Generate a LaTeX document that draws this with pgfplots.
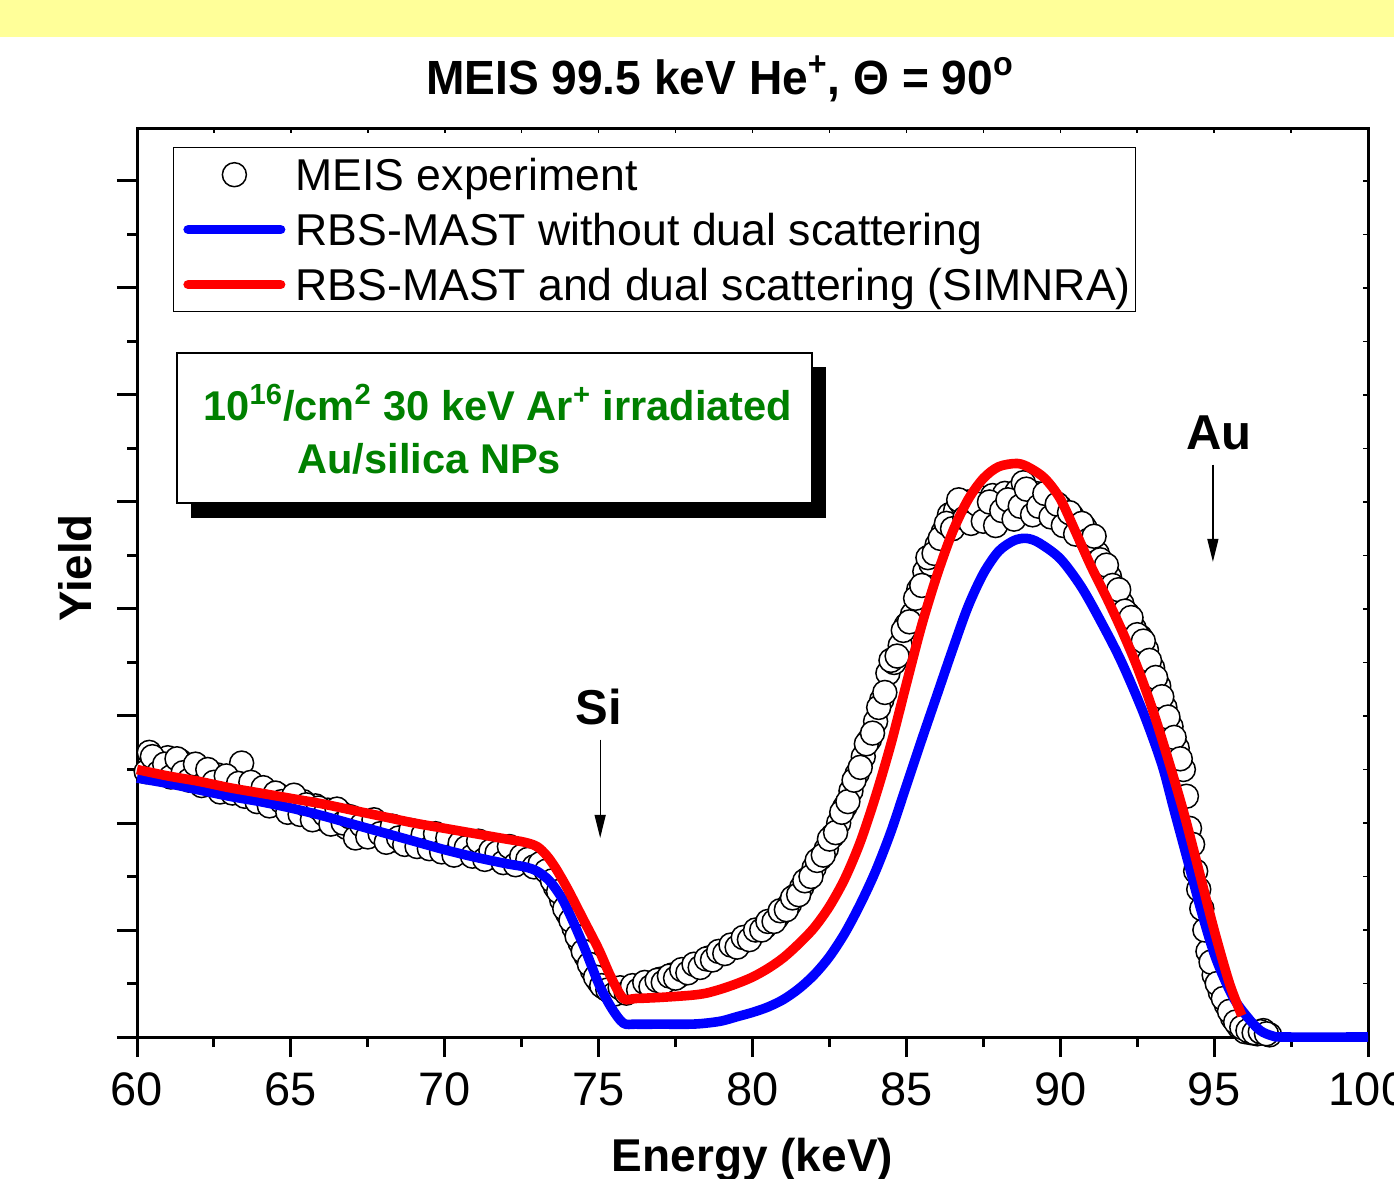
\documentclass[border=0pt]{standalone}
\usepackage{fontspec}
\setmainfont{Liberation Sans}
\newfontfamily\titlefont{Liberation Sans}[FakeStretch=0.96]
\usepackage{pgfplots}
\usepackage{pgfplotstable}
\pgfplotsset{compat=1.18}
\usetikzlibrary{arrows.meta}

\definecolor{meisblue}{RGB}{0,0,255}
\definecolor{meisred}{RGB}{255,0,0}
\definecolor{meisgreen}{RGB}{0,128,0}
\definecolor{bandyellow}{RGB}{255,255,153}

\pgfplotsset{
  long line legend/.style={legend image code/.code={%
      \path (0pt,0pt) (51pt,0pt);
      \draw[##1, line cap=round] (2.4pt,0pt) -- (48.6pt,0pt);}},
  long mark legend/.style={legend image code/.code={%
      \path (0pt,0pt) (51pt,0pt);
      \draw[mark repeat=2,mark phase=2,##1]
        plot coordinates {(0pt,0pt) (25.5pt,0pt) (51pt,0pt)};}},
}

% MEIS experiment (yield in arbitrary units)
\pgfplotstableread{
x y
60.4 2.66
60.6 2.55
60.8 2.48
61.0 2.61
61.2 2.50
61.4 2.58
61.6 2.44
61.8 2.52
62.0 2.40
62.2 2.47
62.4 2.36
62.6 2.45
62.8 2.33
63.0 2.40
63.2 2.30
63.4 2.56
63.6 2.27
63.8 2.34
64.0 2.22
64.2 2.30
64.4 2.19
64.6 2.26
64.8 2.15
65.0 2.23
65.2 2.12
65.4 2.20
65.6 2.08
65.8 2.16
66.0 2.04
66.2 2.12
66.4 2.02
66.6 2.10
66.8 1.96
67.0 2.05
67.2 1.90
67.4 2.00
67.6 1.93
67.8 1.98
68.0 1.88
68.2 1.95
68.4 1.84
68.6 1.92
68.8 1.82
69.0 1.90
69.2 1.80
69.4 1.87
69.6 1.78
69.8 1.85
70.0 1.76
70.2 1.83
70.4 1.74
70.6 1.80
70.8 1.72
71.0 1.80
71.2 1.70
71.4 1.77
71.6 1.68
71.8 1.75
72.0 1.66
72.2 1.73
72.4 1.64
72.6 1.70
72.8 1.62
73.0 1.65
73.2 1.58
73.4 1.52
73.6 1.40
73.8 1.28
74.0 1.15
74.2 1.02
74.4 0.88
74.6 0.75
74.8 0.62
75.0 0.52
75.2 0.46
75.4 0.42
75.6 0.41
75.8 0.44
76.0 0.43
76.2 0.47
76.4 0.46
76.6 0.50
76.8 0.49
77.0 0.54
77.2 0.53
77.4 0.58
77.6 0.57
77.8 0.62
78.0 0.63
78.2 0.67
78.4 0.69
78.6 0.74
78.8 0.76
79.0 0.80
79.2 0.82
79.4 0.86
79.6 0.88
79.8 0.92
80.0 0.96
80.2 1.00
80.4 1.03
80.6 1.08
80.8 1.12
81.0 1.18
81.2 1.24
81.4 1.32
81.6 1.40
81.8 1.48
82.0 1.58
82.2 1.67
82.4 1.76
82.6 1.88
82.8 2.00
83.0 2.15
83.2 2.30
83.4 2.46
83.6 2.62
83.8 2.78
84.0 2.95
84.2 3.15
84.4 3.40
84.6 3.50
84.8 3.66
85.0 3.85
85.2 3.95
85.4 4.18
85.6 4.35
85.8 4.42
86.0 4.60
86.2 4.72
86.4 4.88
86.6 4.92
86.8 4.98
87.0 5.00
87.2 4.94
87.4 5.04
87.6 4.90
87.8 5.06
88.0 4.96
88.2 5.08
88.4 4.92
88.6 5.10
88.8 5.18
89.0 5.02
89.2 5.08
89.4 4.98
89.6 5.04
89.8 4.92
90.0 4.95
90.2 4.84
90.4 4.86
90.6 4.74
90.8 4.76
91.0 4.62
91.2 4.52
91.4 4.40
91.6 4.30
91.8 4.16
92.0 4.05
92.2 3.95
92.4 3.82
92.6 3.74
92.8 3.62
93.0 3.45
93.2 3.28
93.4 3.08
93.6 2.90
93.8 2.70
94.0 2.50
94.2 1.95
94.4 1.55
94.6 1.20
94.8 0.80
95.0 0.58
95.2 0.42
95.4 0.30
95.6 0.18
95.8 0.10
96.0 0.05
96.2 0.04
96.4 0.03
96.6 0.06
96.8 0.02
60.3 2.48
60.5 2.62
60.7 2.47
60.9 2.55
61.1 2.43
61.3 2.60
61.5 2.47
61.7 2.40
61.9 2.55
62.1 2.35
62.3 2.50
62.5 2.38
62.7 2.29
62.9 2.44
63.1 2.28
63.3 2.37
63.5 2.25
63.7 2.38
63.9 2.20
64.1 2.33
64.3 2.16
64.5 2.28
64.7 2.20
64.9 2.10
65.1 2.26
65.3 2.08
65.5 2.17
65.7 2.03
65.9 2.14
66.1 2.08
66.3 1.99
66.5 2.13
66.7 2.00
66.9 2.06
67.1 1.86
67.3 1.98
67.5 1.87
67.7 2.03
67.9 1.90
68.1 1.82
68.3 1.97
68.5 1.86
68.7 1.80
68.9 1.93
69.1 1.78
69.3 1.89
69.5 1.76
69.7 1.90
69.9 1.73
70.1 1.86
70.3 1.70
70.5 1.81
70.7 1.77
70.9 1.69
71.1 1.83
71.3 1.66
71.5 1.74
71.7 1.72
71.9 1.63
72.1 1.78
72.3 1.61
72.5 1.69
72.7 1.66
72.9 1.59
73.1 1.62
73.3 1.55
73.5 1.46
73.7 1.36
73.9 1.20
74.1 1.09
74.3 0.94
74.5 0.80
74.7 0.68
74.9 0.56
75.1 0.48
75.3 0.44
75.5 0.40
75.7 0.46
75.9 0.41
76.1 0.48
76.3 0.44
76.5 0.51
76.7 0.47
76.9 0.53
77.1 0.51
77.3 0.57
77.5 0.55
77.7 0.63
77.9 0.60
78.1 0.68
78.3 0.65
78.5 0.73
78.7 0.72
78.9 0.80
79.1 0.78
79.3 0.86
79.5 0.84
79.7 0.93
79.9 0.91
80.1 1.00
80.3 1.00
80.5 1.08
80.7 1.08
80.9 1.18
81.1 1.19
81.3 1.30
81.5 1.33
81.7 1.46
81.9 1.50
82.1 1.65
82.3 1.70
82.5 1.85
82.7 1.91
82.9 2.10
83.1 2.20
83.3 2.40
83.5 2.52
83.7 2.74
83.9 2.84
84.1 3.08
84.3 3.22
84.5 3.52
84.7 3.56
84.9 3.80
85.1 3.88
85.3 4.10
85.5 4.22
85.7 4.48
85.9 4.52
86.1 4.66
86.3 4.80
86.5 4.75
86.7 5.02
86.9 4.85
87.1 4.80
87.3 4.98
87.5 4.82
87.7 5.00
87.9 4.78
88.1 4.92
88.3 5.02
88.5 4.84
88.7 4.96
88.9 5.12
89.1 4.88
89.3 4.96
89.5 5.08
89.7 4.86
89.9 4.98
90.1 4.78
90.3 4.90
90.5 4.70
90.7 4.80
90.9 4.64
91.1 4.68
91.3 4.46
91.5 4.41
91.7 4.22
91.9 4.18
92.1 3.98
92.3 3.92
92.5 3.76
92.7 3.70
92.9 3.52
93.1 3.36
93.3 3.18
93.5 2.99
93.7 2.80
93.9 2.60
94.1 2.25
94.3 1.80
94.5 1.38
94.7 1.00
94.9 0.70
95.1 0.50
95.3 0.36
95.5 0.24
95.7 0.14
95.9 0.09
96.1 0.06
96.3 0.04
96.5 0.05
96.7 0.03
}\meisdata

% RBS-MAST without dual scattering
\pgfplotstableread{
x y
60 2.42
61 2.37
62 2.31
63 2.25
64 2.20
65 2.14
66 2.07
67 1.99
68 1.91
69 1.83
70 1.75
71 1.68
72 1.62
72.6 1.59
73.0 1.55
73.4 1.46
73.8 1.30
74.2 1.06
74.6 0.79
75.0 0.50
75.4 0.28
75.8 0.13
76.2 0.12
77.0 0.12
78.0 0.12
78.5 0.13
79.0 0.15
79.5 0.19
80.0 0.23
80.5 0.28
81.0 0.35
81.5 0.45
82.0 0.58
82.5 0.75
83.0 0.97
83.5 1.24
84.0 1.55
84.5 1.92
85.0 2.35
85.5 2.78
86.0 3.20
86.5 3.62
87.0 4.02
87.5 4.33
88.0 4.54
88.5 4.64
88.9 4.66
89.3 4.62
90.0 4.47
90.7 4.20
91.4 3.84
92.0 3.50
92.7 3.03
93.3 2.55
93.7 2.12
94.15 1.64
94.6 1.16
95.05 0.74
95.6 0.38
96.1 0.18
96.5 0.06
96.9 0.01
97.3 0
100 0
}\bluedata

% RBS-MAST and dual scattering (SIMNRA)
\pgfplotstableread{
x y
60 2.50
61 2.44
62 2.39
63 2.33
64 2.28
65 2.23
66 2.18
67 2.12
68 2.06
69 2.00
70 1.95
71 1.90
72 1.85
72.6 1.82
73.0 1.78
73.3 1.70
73.6 1.58
74.0 1.38
74.5 1.10
75.0 0.82
75.4 0.56
75.8 0.36
76.2 0.36
77.0 0.37
78.0 0.39
78.5 0.41
79.0 0.45
79.5 0.50
80.0 0.56
80.5 0.64
81.0 0.74
81.5 0.87
82.0 1.02
82.5 1.22
83.0 1.48
83.5 1.82
84.0 2.25
84.5 2.74
85.0 3.30
85.5 3.85
86.0 4.32
86.5 4.72
87.0 5.02
87.5 5.22
88.0 5.33
88.6 5.36
89.0 5.32
89.5 5.22
90.0 5.03
90.5 4.72
91.0 4.40
91.5 4.11
92.0 3.80
92.5 3.46
93.0 3.06
93.5 2.60
94.0 2.11
94.5 1.56
95.0 1.00
95.5 0.50
95.9 0.20
}\reddata

\begin{document}
\begin{tikzpicture}
\path[use as bounding box] (0,0) rectangle (697pt,-589.5pt);
\clip (0,0) rectangle (697pt,-589.5pt);
\fill[white] (0,0) rectangle (697pt,-589.5pt);
\fill[bandyellow] (0,0) rectangle (697pt,-18.5pt);

% inset text box with shadow
\begin{scope}[x=0.5pt,y=-0.5pt]
  \fill[black] (191,367) rectangle (826,518);
  \draw[fill=white, line width=0.6pt] (177,353) rectangle (812,503);
  \node[anchor=base west, inner sep=0pt, text=meisgreen,
        font=\fontsize{20.8}{25}\selectfont\bfseries] at (203,420)
        {10\textsuperscript{16}/cm\textsuperscript{2} 30 keV Ar\textsuperscript{+} irradiated};
  \node[anchor=base west, inner sep=0pt, text=meisgreen,
        font=\fontsize{20.8}{25}\selectfont\bfseries] at (297,473) {Au/silica NPs};
\end{scope}

% small inward ticks on top and right
\begin{axis}[
    at={(68.5pt,-518.5pt)}, anchor=south west,
    scale only axis, width=615.5pt, height=454.5pt,
    xmin=60, xmax=100, ymin=0, ymax=8.495,
    axis line style={draw=none},
    tick align=inside,
    xtick pos=right, ytick pos=right,
    xtick={60,62.5,...,100}, ytick={0,0.5,...,8.5},
    xticklabels={}, yticklabels={},
    major tick length=2.5pt,
    every tick/.append style={black, line width=0.75pt},
]
\end{axis}

\begin{axis}[
    at={(68.5pt,-518.5pt)}, anchor=south west,
    scale only axis, width=615.5pt, height=454.5pt,
    xmin=60, xmax=100, ymin=0, ymax=8.495,
    clip=false, clip marker paths=true,
    axis line style={line width=1.5pt},
    every tick/.append style={black, line width=1.5pt},
    tick align=outside,
    xtick pos=left, ytick pos=left,
    xtick={60,65,...,100}, minor x tick num=1,
    ytick={0,1,...,8}, minor y tick num=1,
    yticklabels={},
    major tick length=10pt, minor tick length=5pt,
    /pgf/number format/assume math mode=true,
    xticklabel style={font=\fontsize{23.5}{28}\selectfont, yshift=-4.5pt},
    every axis title shift=0pt,
    title={MEIS 99.5 keV He\textsuperscript{+}, Θ = 90\textsuperscript{o}},
    title style={at={(axis description cs:0.4736,1.0374)}, anchor=base,
                 inner sep=0pt, font=\fontsize{24}{28}\selectfont\titlefont\bfseries},
    xlabel={Energy (keV)},
    xlabel style={at={(axis description cs:0.5,-0.1474)}, anchor=base,
                  inner sep=0pt, font=\fontsize{23}{27}\selectfont\bfseries},
    ylabel={Yield},
    ylabel style={at={(axis description cs:-0.0504,0.516)}, anchor=center,
                  inner sep=0pt, font=\fontsize{22.8}{27}\selectfont\bfseries},
    legend cell align=left,
    legend style={at={(rel axis cs:0.02924,0.979)}, anchor=north west,
                  draw=black, line width=0.6pt, fill=white,
                  inner xsep=2.5pt, inner ysep=2.5pt, row sep=5.5pt,
                  font=\fontsize{22.3}{26}\selectfont,
                  nodes={inner sep=0pt, text height=19pt, text depth=3pt},
                  /tikz/every odd column/.append style={column sep=2.7pt}},
]
\addplot[only marks, mark=*, mark size=6pt,
         mark options={draw=black, fill=white, line width=0.75pt},
         long mark legend]
    table {\meisdata};
\addlegendentry{MEIS experiment}

\addplot[meisblue, line width=4.8pt, smooth, tension=0.5, line join=round,
         long line legend]
    table {\bluedata};
\addlegendentry{RBS-MAST without dual scattering}

\addplot[meisred, line width=4.8pt, smooth, tension=0.5, line join=round,
         long line legend]
    table {\reddata};
\addlegendentry{RBS-MAST and dual scattering (SIMNRA)}

% element edges
\node[font=\fontsize{24.5}{28}\selectfont\bfseries] at (axis cs:75.0,3.08) {Si};
\draw[-{Triangle[length=11.5pt,width=5.5pt]}, line width=0.65pt]
    (axis cs:75.05,2.78) -- (axis cs:75.05,1.86);
\node[font=\fontsize{24.5}{28}\selectfont\bfseries] at (axis cs:95.16,5.65) {Au};
\draw[-{Triangle[length=11.5pt,width=5.5pt]}, line width=0.65pt]
    (axis cs:94.96,5.35) -- (axis cs:94.96,4.44);
\end{axis}
\end{tikzpicture}
\end{document}
